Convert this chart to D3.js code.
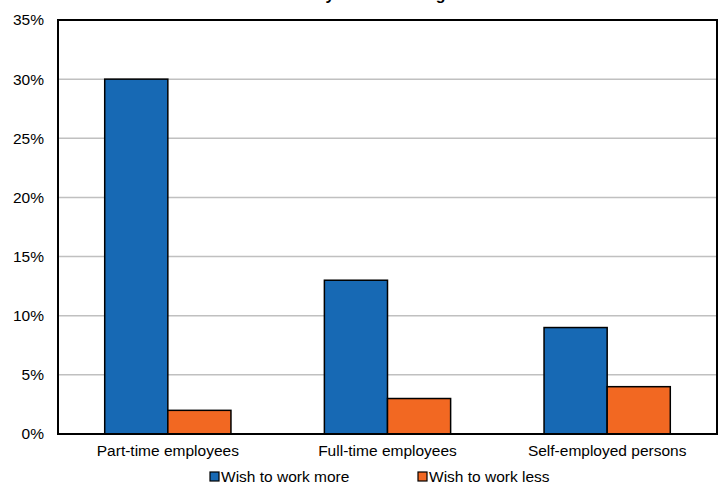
<!DOCTYPE html>
<html>
<head>
<meta charset="utf-8">
<script src="https://cdn.jsdelivr.net/npm/d3@7"></script>
<style>
  body { margin: 0; background: #fff; }
  text { font-family: "Liberation Sans", Arial, sans-serif; }
</style>
</head>
<body>
<script>
// chart data
const categories = ["Part-time employees", "Full-time employees", "Self-employed persons"];
const seriesNames = ["Wish to work more", "Wish to work less"];
const wishMore = [30, 13, 9];
const wishLess = [2, 3, 4];
const yTicks = [0, 5, 10, 15, 20, 25, 30, 35];
const colors = ["#1769B4", "#F26822"];

const width = 725;
const height = 485;
const margin = { top: 20, right: 8, bottom: 51, left: 58 };
const fontSize = 15.5;

const svg = d3.select("body")
    .append("svg")
    .attr("width", width)
    .attr("height", height);

const innerW = width - margin.left - margin.right;
const innerH = height - margin.top - margin.bottom;

const g = svg.append("g").attr("transform", `translate(${margin.left},${margin.top})`);

const x0 = d3.scaleBand().domain(categories).range([0, innerW]).padding(0);
const x1 = d3.scaleBand().domain(seriesNames).range([0, x0.bandwidth()])
    .paddingInner(0).paddingOuter(0.74);
const y = d3.scaleLinear().domain([0, 35]).range([innerH, 0]);

// title (mostly cut off above the view, as in the source)
svg.append("text")
    .attr("x", 395)
    .attr("y", 0)
    .attr("text-anchor", "middle")
    .attr("font-size", 16)
    .attr("font-weight", "bold")
    .text("Workers by wish to change their hours");

// gridlines
g.selectAll(".grid")
    .data(yTicks.filter(d => d > 0 && d < 35))
    .enter().append("line")
    .attr("x1", 0).attr("x2", innerW)
    .attr("y1", d => y(d)).attr("y2", d => y(d))
    .attr("stroke", "#c0c0c0")
    .attr("stroke-width", 1.5);

// bars
const rows = categories.map((c, i) => ({ cat: c, vals: [wishMore[i], wishLess[i]] }));
const groups = g.selectAll(".grp")
    .data(rows)
    .enter().append("g")
    .attr("transform", d => `translate(${x0(d.cat)},0)`);

groups.selectAll("rect")
    .data(d => d.vals.map((v, k) => ({ key: seriesNames[k], v: v, k: k })))
    .enter().append("rect")
    .attr("x", d => x1(d.key))
    .attr("y", d => y(d.v))
    .attr("width", x1.bandwidth())
    .attr("height", d => y(0) - y(d.v))
    .attr("fill", d => colors[d.k])
    .attr("stroke", "#000")
    .attr("stroke-width", 1.5);

// plot frame
g.append("rect")
    .attr("x", 0).attr("y", 0)
    .attr("width", innerW).attr("height", innerH)
    .attr("fill", "none")
    .attr("stroke", "#000")
    .attr("stroke-width", 2);

// y axis labels
const yAxis = d3.axisLeft(y).tickValues(yTicks).tickSize(0).tickPadding(14)
    .tickFormat(d => d + "%");
g.append("g").call(yAxis)
    .call(s => s.select(".domain").remove())
    .selectAll("text")
    .attr("font-size", fontSize)
    .attr("fill", "#000")
    .style("font-family", '"Liberation Sans", Arial, sans-serif');

// x axis labels
const xAxis = d3.axisBottom(x0).tickSize(0).tickPadding(11);
g.append("g").attr("transform", `translate(0,${innerH})`).call(xAxis)
    .call(s => s.select(".domain").remove())
    .selectAll("text")
    .attr("font-size", fontSize)
    .attr("fill", "#000")
    .style("font-family", '"Liberation Sans", Arial, sans-serif');

// legend
const legendX = [210, 418];
const legend = svg.selectAll(".leg")
    .data(seriesNames)
    .enter().append("g")
    .attr("transform", (d, i) => `translate(${legendX[i]},472)`);

legend.append("rect")
    .attr("x", 0).attr("y", 0)
    .attr("width", 9).attr("height", 9)
    .attr("fill", (d, i) => colors[i])
    .attr("stroke", "#000")
    .attr("stroke-width", 1.2);

legend.append("text")
    .attr("x", 11).attr("y", 10)
    .attr("font-size", fontSize)
    .text(d => d);
</script>
</body>
</html>
